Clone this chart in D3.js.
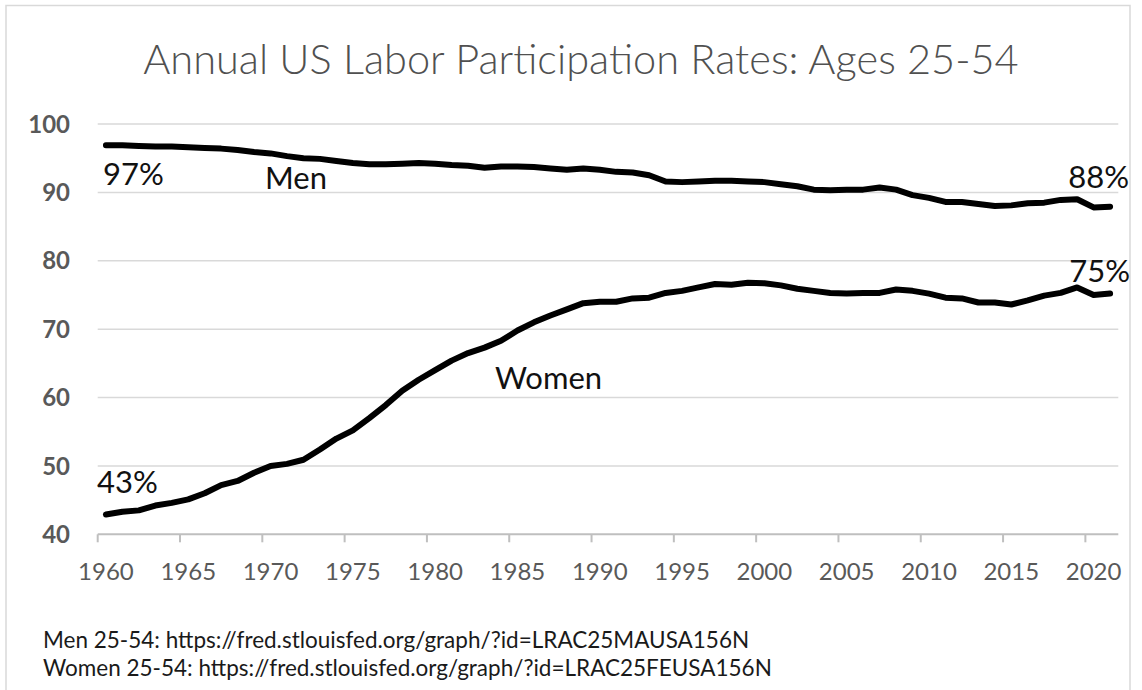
<!DOCTYPE html>
<html>
<head>
<meta charset="utf-8">
<script src="https://cdn.jsdelivr.net/npm/d3@7"></script>
<style>
  body { margin: 0; background: #fff; }
  svg { display: block; font-family: Lato, "Open Sans", sans-serif; }
  .grid line { stroke: #d9d9d9; stroke-width: 1.5; }
  .series { fill: none; stroke: #000; stroke-width: 6; stroke-linejoin: round; stroke-linecap: round; }
</style>
</head>
<body>
<svg id="chart" width="1142" height="690"></svg>
<script>
// years on the category axis
const years = d3.range(1960, 2022);

// labor force participation, percent
const men = [96.9, 96.9, 96.8, 96.7, 96.7, 96.6, 96.5, 96.4, 96.2, 95.9,
  95.7, 95.3, 95.0, 94.9, 94.6, 94.3, 94.1, 94.1, 94.2, 94.3,
  94.2, 94.0, 93.9, 93.6, 93.8, 93.8, 93.7, 93.5, 93.3, 93.5,
  93.3, 93.0, 92.9, 92.5, 91.6, 91.5, 91.6, 91.7, 91.7, 91.6,
  91.5, 91.2, 90.9, 90.4, 90.3, 90.4, 90.4, 90.7, 90.4, 89.6,
  89.2, 88.6, 88.6, 88.3, 88.0, 88.1, 88.4, 88.5, 88.9, 89.0,
  87.8, 87.9];

const women = [42.9, 43.3, 43.5, 44.2, 44.6, 45.1, 46.0, 47.2, 47.8, 49.0,
  50.0, 50.3, 50.9, 52.4, 54.0, 55.2, 57.0, 58.9, 61.0, 62.6,
  64.0, 65.4, 66.5, 67.3, 68.3, 69.8, 71.0, 72.0, 72.9, 73.8,
  74.0, 74.0, 74.5, 74.6, 75.3, 75.6, 76.1, 76.6, 76.5, 76.8,
  76.7, 76.4, 75.9, 75.6, 75.3, 75.2, 75.3, 75.3, 75.8, 75.6,
  75.2, 74.6, 74.5, 73.9, 73.9, 73.6, 74.2, 74.9, 75.3, 76.1,
  75.0, 75.2];

const yTicks = [40, 50, 60, 70, 80, 90, 100];
const xTickYears = d3.range(1960, 2021, 5);

const titleText = "Annual US Labor Participation Rates: Ages 25-54";
const sources = [
  "Men 25-54: https://fred.stlouisfed.org/graph/?id=LRAC25MAUSA156N",
  "Women 25-54: https://fred.stlouisfed.org/graph/?id=LRAC25FEUSA156N"
];

const svg = d3.select("#chart");

// chart border (cut off at the bottom of the picture)
svg.append("rect")
  .attr("x", 6).attr("y", 5.5)
  .attr("width", 1124).attr("height", 720)
  .attr("fill", "none").attr("stroke", "#d9d9d9").attr("stroke-width", 1.5);

const x = d3.scaleBand().domain(years).range([97.7, 1118.3]);
const y = d3.scaleLinear().domain([40, 100]).range([534.3, 124]);
const cx = yr => x(yr) + x.bandwidth() / 2;

// title
svg.append("text")
  .attr("x", 581).attr("y", 74)
  .attr("text-anchor", "middle")
  .attr("fill", "#505050")
  .attr("font-size", 41.5)
  .attr("font-weight", 300)
  .text(titleText);

// horizontal gridlines
svg.append("g").attr("class", "grid")
  .selectAll("line")
  .data(yTicks.filter(d => d > 40))
  .join("line")
  .attr("x1", 97.7).attr("x2", 1118.3)
  .attr("y1", d => y(d)).attr("y2", d => y(d));

// y axis labels
svg.append("g")
  .selectAll("text")
  .data(yTicks)
  .join("text")
  .attr("x", 70).attr("y", d => y(d))
  .attr("dy", "0.36em")
  .attr("text-anchor", "end")
  .attr("fill", "#595959")
  .attr("font-size", 24)
  .attr("font-weight", 700)
  .text(d => d);

// x axis: line, ticks at category boundaries, labels centered on category
const xAxis = svg.append("g").attr("transform", "translate(0," + y(40) + ")");
xAxis.append("line")
  .attr("x1", 97.7).attr("x2", 1118.3)
  .attr("stroke", "#bfbfbf").attr("stroke-width", 2);
xAxis.selectAll(".tick")
  .data(xTickYears)
  .join("line")
  .attr("class", "tick")
  .attr("x1", d => x(d)).attr("x2", d => x(d))
  .attr("y1", 0).attr("y2", 8)
  .attr("stroke", "#bfbfbf").attr("stroke-width", 2);
xAxis.selectAll(".lbl")
  .data(xTickYears)
  .join("text")
  .attr("class", "lbl")
  .attr("x", d => cx(d)).attr("y", 46)
  .attr("text-anchor", "middle")
  .attr("fill", "#595959")
  .attr("font-size", 24)
  .text(d => d);

// series lines
const line = d3.line()
  .x((d, i) => cx(years[i]))
  .y(d => y(d));

svg.append("path").datum(men).attr("class", "series").attr("d", line);
svg.append("path").datum(women).attr("class", "series").attr("d", line);

// annotations
const pct = v => Math.round(v) + "%";
const last = years.length - 1;
const notes = [
  { text: pct(men[0]), x: cx(1960) - 3, y: y(men[0]) + 40, anchor: "start" },
  { text: "Men", x: 265, y: 189, anchor: "start" },
  { text: pct(men[last]), x: cx(2021) + 19, y: y(men[last]) - 19, anchor: "end" },
  { text: pct(women[last]), x: cx(2021) + 20, y: y(women[last]) - 12, anchor: "end" },
  { text: "Women", x: 495, y: 389, anchor: "start" },
  { text: pct(women[0]), x: cx(1960) - 9, y: y(women[0]) - 21, anchor: "start" }
];
svg.append("g")
  .selectAll("text")
  .data(notes)
  .join("text")
  .attr("x", d => d.x).attr("y", d => d.y)
  .attr("text-anchor", d => d.anchor)
  .attr("fill", "#111")
  .attr("font-size", 31)
  .text(d => d.text);

// source lines
svg.append("g")
  .selectAll("text")
  .data(sources)
  .join("text")
  .attr("x", 43).attr("y", (d, i) => 648 + i * 28)
  .attr("fill", "#1a1a1a")
  .attr("font-size", 22.5)
  .text(d => d);
</script>
</body>
</html>
